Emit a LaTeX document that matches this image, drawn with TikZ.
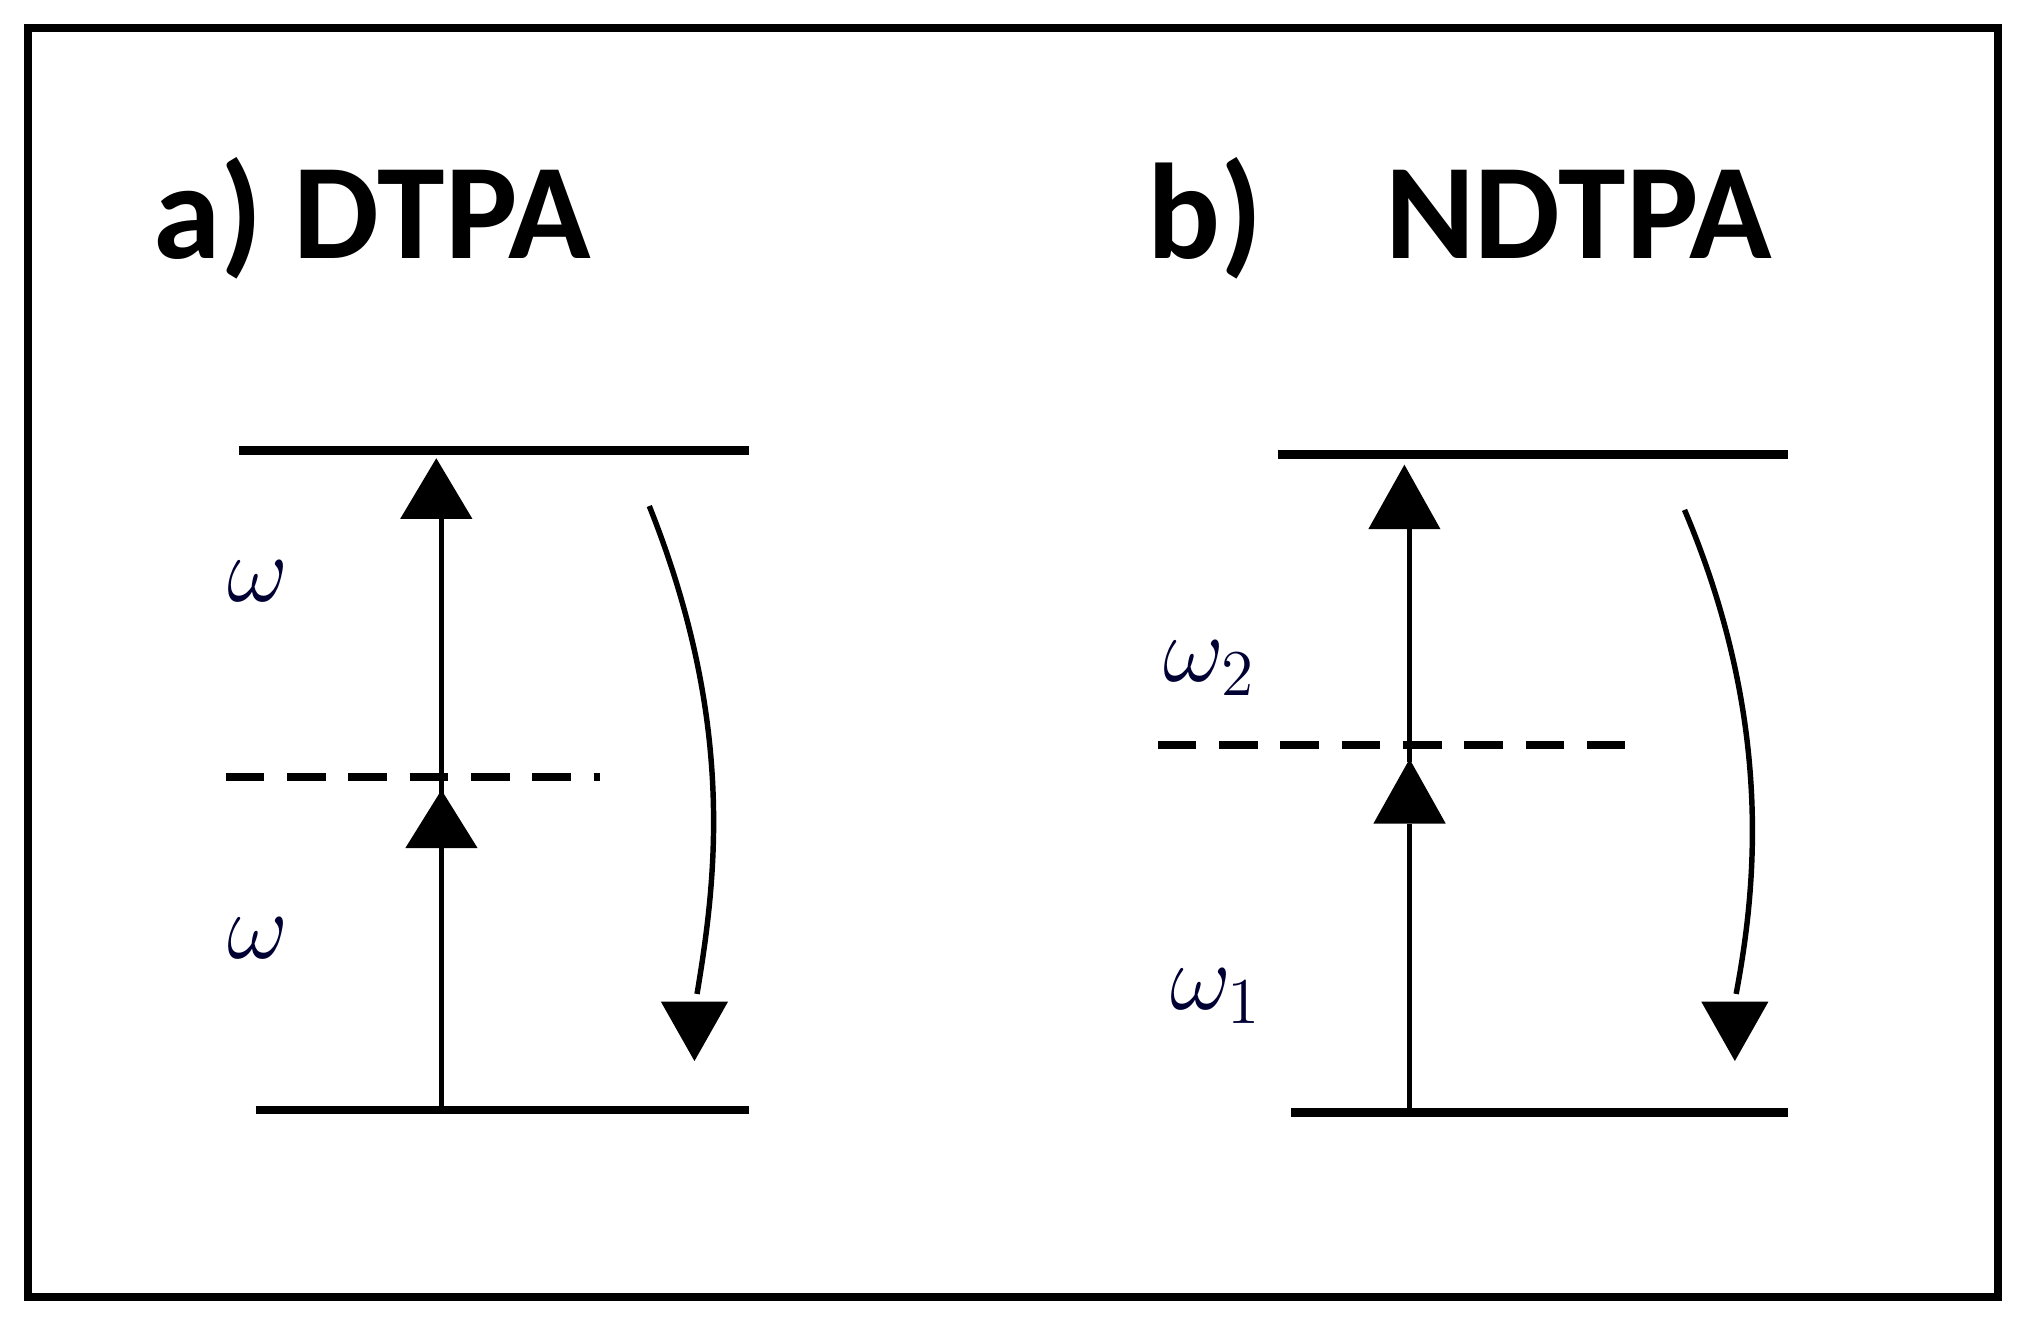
\documentclass[tikz,border=0pt]{standalone}
\usepackage{fontspec}
\newfontfamily\titlefont{Carlito}
\begin{document}
\begin{tikzpicture}[x=0.01cm,y=-0.01cm,
  level/.style={line width=1.9pt},
  dashlvl/.style={line width=1.7pt,dash pattern=on 8.5pt off 5pt},
  ar/.style={line width=1.2pt},
  tri/.style={fill=black},
  ttl/.style={font=\titlefont\bfseries\fontsize{30}{36}\selectfont,anchor=base west,inner sep=0},
  om/.style={font=\fontsize{20}{24}\selectfont,text=black!80!blue}]
\useasboundingbox (0,0) rectangle (1568,1036);
\draw[line width=1.8pt] (22,22) rectangle (1548,1005);
\node[ttl] (ta) at (118,200) {a) DTPA};
\node[ttl] (tb) at (888,200) {b)\hspace{0.9em}NDTPA};
% left
\draw[level] (185,349) -- (580,349);
\draw[level] (198,860) -- (580,860);
\draw[dashlvl] (175,602) -- (465,602);
\draw[ar] (342,860) -- (342,655);
\draw[ar] (342,620) -- (342,400);
\fill[tri] (342,612) -- (314,657) -- (370,657) -- cycle;
\fill[tri] (338,355) -- (310,402) -- (366,402) -- cycle;
\draw[ar] (503,392) .. controls (570,560) and (555,680) .. (540,770);
\fill[tri] (538,822) -- (512,776) -- (564,776) -- cycle;
\node[om] (w1) at (200,450) {$\omega$};
\node[om] (w2) at (200,727) {$\omega$};
% right
\draw[level] (990,352) -- (1385,352);
\draw[level] (1000,862) -- (1385,862);
\draw[dashlvl] (897,577) -- (1268,577);
\draw[ar] (1092,862) -- (1092,638);
\draw[ar] (1092,590) -- (1092,410);
\fill[tri] (1092,588) -- (1064,638) -- (1120,638) -- cycle;
\fill[tri] (1088,360) -- (1060,410) -- (1116,410) -- cycle;
\draw[ar] (1305,395) .. controls (1375,560) and (1360,690) .. (1345,770);
\fill[tri] (1344,822) -- (1318,776) -- (1370,776) -- cycle;
\node[om] (w3) at (937,518) {$\omega_2$};
\node[om] (w4) at (942,772) {$\omega_1$};
\end{tikzpicture}
\end{document}
